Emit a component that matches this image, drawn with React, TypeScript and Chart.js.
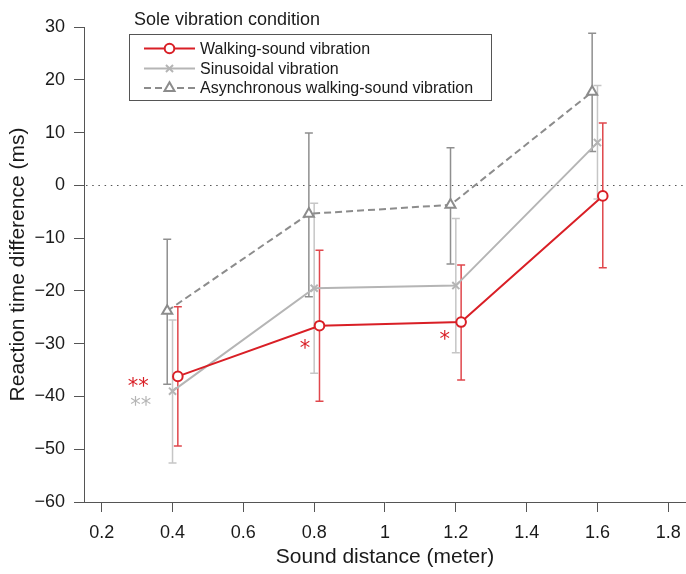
import React, { useEffect, useRef } from 'react';
import { Chart, registerables } from 'chart.js';
import { drawPoint } from 'chart.js/helpers';

Chart.register(...registerables);

// ---- data ----
const distances = [0.4, 0.8, 1.2, 1.6];

const walkingMean = [-36.2, -26.6, -25.9, -2.0];
const walkingUpper = [-23.0, -12.3, -15.1, 11.8];
const walkingLower = [-49.4, -40.9, -36.9, -15.6];

const sinusMean = [-39.0, -19.5, -19.0, 8.1];
const sinusUpper = [-25.5, -3.4, -6.3, 18.9];
const sinusLower = [-52.6, -35.6, -31.7, -2.6];

const asyncMean = [-23.8, -5.4, -3.7, 17.7];
const asyncUpper = [-10.2, 9.9, 7.1, 28.8];
const asyncLower = [-37.7, -21.1, -14.9, 6.4];

const seriesNames = [
  'Walking-sound vibration',
  'Sinusoidal vibration',
  'Asynchronous walking-sound vibration',
];
const legendTitle = 'Sole vibration condition';
const xTitle = 'Sound distance (meter)';
const yTitle = 'Reaction time difference (ms)';

const xTicks = [0.2, 0.4, 0.6, 0.8, 1, 1.2, 1.4, 1.6, 1.8];
const yTicks = [-60, -50, -40, -30, -20, -10, 0, 10, 20, 30];

// significance marks (data coordinates)
const sigText = ['**', '**', '*', '*'];
const sigX = [0.303, 0.31, 0.774, 1.169];
const sigY = [-37.5, -41.1, -30.4, -28.7];
const sigSeries = [0, 1, 0, 0];

// ---- styles ----
const FONT = '"Liberation Sans", Arial, Helvetica, sans-serif';
const RED = '#d91f26';
const RED_ERR = '#e0474c';
const LIGHT = '#b5b5b5';
const LIGHT_ERR = '#c6c6c6';
const DARK = '#8c8c8c';
const DARK_ERR = '#8f8f8f';
const AXIS = '#555555';
const TEXT = '#1a1a1a';

const dodge = [0.015, 0, -0.015];
const colors = [RED, LIGHT, DARK];
const errColors = [RED_ERR, LIGHT_ERR, DARK_ERR];
const pointStyles = ['circle', 'crossRot', 'triangle'];
const pointRadius = [4.8, 5, 5.8];
const dashes: number[][] = [[], [], [7, 4]];

const means = [walkingMean, sinusMean, asyncMean];
const uppers = [walkingUpper, sinusUpper, asyncUpper];
const lowers = [walkingLower, sinusLower, asyncLower];

const extrasPlugin = {
  id: 'extras',
  beforeDatasetsDraw(chart: any) {
    const { ctx, chartArea, scales } = chart;
    const xs = scales.x;
    const ys = scales.y;
    // zero reference line
    ctx.save();
    ctx.strokeStyle = '#555';
    ctx.lineWidth = 1.2;
    ctx.setLineDash([1.5, 4.7]);
    const y0 = Math.round(ys.getPixelForValue(0)) + 0.5;
    ctx.beginPath();
    ctx.moveTo(chartArea.left + 2, y0);
    ctx.lineTo(chartArea.right, y0);
    ctx.stroke();
    ctx.restore();
    // error bars
    for (let s = 2; s >= 0; s--) {
      ctx.save();
      ctx.strokeStyle = errColors[s];
      ctx.lineWidth = 1.5;
      for (let i = 0; i < distances.length; i++) {
        const px = xs.getPixelForValue(distances[i] + dodge[s]);
        const pu = ys.getPixelForValue(uppers[s][i]);
        const pl = ys.getPixelForValue(lowers[s][i]);
        const cap = 4;
        ctx.beginPath();
        ctx.moveTo(px, pu);
        ctx.lineTo(px, pl);
        ctx.moveTo(px - cap, pu);
        ctx.lineTo(px + cap, pu);
        ctx.moveTo(px - cap, pl);
        ctx.lineTo(px + cap, pl);
        ctx.stroke();
      }
      ctx.restore();
    }
  },
  afterDatasetsDraw(chart: any) {
    const { ctx, scales } = chart;
    const xs = scales.x;
    const ys = scales.y;
    // significance asterisks
    ctx.save();
    ctx.font = `21px "DejaVu Sans", sans-serif`;
    ctx.textAlign = 'center';
    ctx.textBaseline = 'middle';
    for (let i = 0; i < sigText.length; i++) {
      ctx.fillStyle = sigSeries[i] === 0 ? RED : LIGHT;
      ctx.fillText(sigText[i], xs.getPixelForValue(sigX[i]), ys.getPixelForValue(sigY[i]) + 4);
    }
    ctx.restore();

    // legend
    ctx.save();
    ctx.fillStyle = TEXT;
    ctx.font = `18px ${FONT}`;
    ctx.textAlign = 'left';
    ctx.textBaseline = 'middle';
    ctx.fillText(legendTitle, 134, 20);
    ctx.strokeStyle = AXIS;
    ctx.lineWidth = 1;
    ctx.strokeRect(129.5, 34.5, 362, 66);
    ctx.font = `16px ${FONT}`;
    const rowY = [48.5, 68.5, 88];
    for (let s = 0; s < 3; s++) {
      const y = rowY[s];
      ctx.save();
      ctx.strokeStyle = colors[s];
      ctx.lineWidth = 2;
      ctx.setLineDash(dashes[s]);
      ctx.beginPath();
      ctx.moveTo(144, y);
      ctx.lineTo(195, y);
      ctx.stroke();
      ctx.setLineDash([]);
      ctx.fillStyle = '#fff';
      ctx.strokeStyle = colors[s];
      ctx.lineWidth = 2;
      drawPoint(ctx, { pointStyle: pointStyles[s] as any, radius: pointRadius[s], rotation: 0, borderWidth: 2 }, 169.5, y);
      ctx.restore();
      ctx.fillStyle = TEXT;
      ctx.fillText(seriesNames[s], 200, y + 1);
    }
    ctx.restore();
  },
};

export default function App() {
  const ref = useRef<HTMLCanvasElement>(null);
  useEffect(() => {
    if (!ref.current) return;
    const datasets = [0, 1, 2].map((s) => ({
      label: seriesNames[s],
      data: distances.map((d, i) => ({ x: d + dodge[s], y: means[s][i] })),
      borderColor: colors[s],
      backgroundColor: '#ffffff',
      borderWidth: 2,
      borderDash: dashes[s],
      pointStyle: pointStyles[s],
      pointRadius: pointRadius[s],
      pointBorderWidth: 2,
      pointBackgroundColor: '#ffffff',
      pointBorderColor: colors[s],
      tension: 0,
      fill: false,
      clip: false,
    }));
    const chart = new Chart(ref.current, {
      type: 'line',
      data: { datasets: datasets as any },
      options: {
        animation: false,
        responsive: true,
        maintainAspectRatio: false,
        layout: { autoPadding: false, padding: { top: 27, right: 0, bottom: 0, left: 0 } },
        plugins: { legend: { display: false }, tooltip: { enabled: false } },
        scales: {
          x: {
            type: 'linear',
            min: 0.15,
            max: 1.85,
            afterBuildTicks: (s: any) => {
              s.ticks = xTicks.map((v) => ({ value: v }));
            },
            afterFit: (s: any) => {
              s.height = 72;
              s.paddingLeft = 0;
              s.paddingRight = 0;
            },
            ticks: {
              callback: (v: any) => String(v),
              font: { family: FONT, size: 18 },
              color: TEXT,
              padding: 10,
              maxRotation: 0,
              autoSkip: false,
            },
            grid: { drawOnChartArea: false, drawTicks: true, tickLength: 10, color: AXIS },
            border: { display: true, color: AXIS, width: 1 },
            title: {
              display: true,
              text: xTitle,
              font: { family: FONT, size: 21 },
              color: TEXT,
              padding: { top: 0, bottom: 4 },
            },
          },
          y: {
            type: 'linear',
            min: -60,
            max: 30,
            afterBuildTicks: (s: any) => {
              s.ticks = yTicks.map((v) => ({ value: v }));
            },
            afterFit: (s: any) => {
              s.width = 84;
              s.paddingTop = 0;
              s.paddingBottom = 0;
            },
            ticks: {
              callback: (v: any) => (v < 0 ? '\u2212' + Math.abs(v) : String(v)),
              font: { family: FONT, size: 18 },
              color: TEXT,
              padding: 9,
              autoSkip: false,
            },
            grid: { drawOnChartArea: false, drawTicks: true, tickLength: 10, color: AXIS },
            border: { display: true, color: AXIS, width: 1 },
            title: {
              display: true,
              text: yTitle,
              font: { family: FONT, size: 21 },
              color: TEXT,
              padding: { top: 6, bottom: 0 },
            },
          },
        },
      },
      plugins: [extrasPlugin],
    });
    return () => chart.destroy();
  }, []);
  return (
    <div style={{ position: 'fixed', left: 0, top: 0, width: 686, height: 574, background: '#fff' }}>
      <canvas ref={ref} />
    </div>
  );
}
